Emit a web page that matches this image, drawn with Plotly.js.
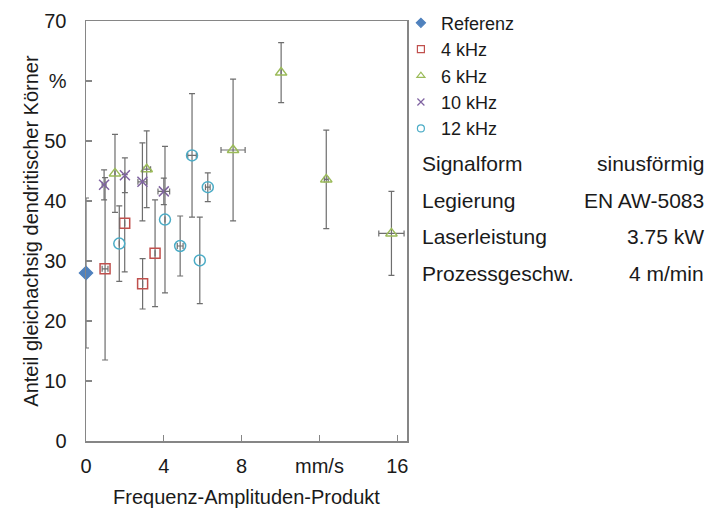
<!DOCTYPE html>
<html>
<head>
<meta charset="utf-8">
<script src="https://cdn.plot.ly/plotly-3.0.1.min.js"></script>
<style>html,body{margin:0;padding:0;background:#fff;}#chart{width:712px;height:515px;}</style>
</head>
<body>
<div id="chart"></div>
<script>
// Series data
const seriesNames = ["Referenz", "4 kHz", "6 kHz", "10 kHz", "12 kHz"];

const refX = [0];
const refY = [28];
const refErrY = [12.5];
const refErrX = [0];

const f4X = [0.98, 1.99, 2.91, 3.55];
const f4Y = [28.7, 36.3, 26.2, 31.3];
const f4ErrY = [15.2, 8.1, 4.2, 8.9];
const f4ErrX = [0.15, 0, 0, 0];

const f6X = [1.49, 3.12, 7.56, 10.03, 12.35, 15.7];
const f6Y = [44.6, 45.3, 48.5, 61.4, 43.6, 34.6];
const f6ErrY = [6.5, 6.4, 11.8, 5.0, 8.2, 7.0];
const f6ErrX = [0, 0.2, 0.62, 0, 0.1, 0.65];

const f10X = [0.93, 2.0, 2.9, 4.0];
const f10Y = [42.7, 44.3, 43.2, 41.6];
const f10ErrY = [2.5, 2.9, 6.5, 2.2];
const f10ErrX = [0.1, 0, 0.23, 0.3];

const f12X = [1.71, 4.06, 4.84, 5.45, 5.85, 6.26];
const f12Y = [32.9, 36.9, 32.5, 47.6, 30.1, 42.3];
const f12ErrY = [6.3, 12.2, 5.0, 10.3, 7.2, 2.4];
const f12ErrX = [0, 0, 0.15, 0.22, 0, 0.12];

const xTickVals = [0, 4, 8, 12, 16];
const xTickText = ["0", "4", "8", "mm/s", "16"];
const yTickVals = [0, 10, 20, 30, 40, 50, 60, 70];
const yTickText = ["0", "10", "20", "30", "40", "50", "%", "70"];

const infoLabels = ["Signalform", "Legierung", "Laserleistung", "Prozessgeschw."];
const infoValues = ["sinusförmig", "EN AW-5083", "3.75 kW", "4 m/min"];

const colors = ["#4F81BD", "#C0504D", "#9BBB59", "#8064A2", "#4BACC6"];
const symbols = ["diamond", "square-open", "triangle-up-open", "x-thin-open", "circle-open"];
const sizes = [10, 10, 10, 10, 11];
const legendSizes = [7, 7, 7, 7, 7];

const dataSets = [
  [refX, refY, refErrX, refErrY],
  [f4X, f4Y, f4ErrX, f4ErrY],
  [f6X, f6Y, f6ErrX, f6ErrY],
  [f10X, f10Y, f10ErrX, f10ErrY],
  [f12X, f12Y, f12ErrX, f12ErrY]
];

const errColor = "#6e6e6e";
const traces = [];
dataSets.forEach((d, i) => {
  traces.push({
    type: "scatter", mode: "markers",
    x: d[0], y: d[1],
    showlegend: false, legendgroup: "g" + i, cliponaxis: false,
    marker: {symbol: symbols[i], size: sizes[i], color: colors[i],
             line: {color: colors[i], width: 1.5}},
    error_y: {type: "data", array: d[3], visible: true, color: errColor, thickness: 1.2, width: 3},
    error_x: {type: "data", array: d[2], visible: true, color: errColor, thickness: 1.2, width: 3}
  });
});
// legend entries
seriesNames.forEach((n, i) => {
  traces.push({
    type: "scatter", mode: "markers", x: [null], y: [null], name: n,
    legendgroup: "g" + i, showlegend: true,
    marker: {symbol: symbols[i], size: legendSizes[i], color: colors[i],
             line: {color: colors[i], width: 1.2}}
  });
});

const L = 86, R = 407, T = 21, B = 441;
const pw = R - L, ph = B - T;
const rowY = [163.5, 200, 236.5, 273];
const annotations = [];
infoLabels.forEach((t, i) => {
  annotations.push({xref: "paper", yref: "paper", x: (420 - L) / pw, y: (B - rowY[i]) / ph,
    xanchor: "left", yanchor: "middle", text: t, showarrow: false,
    font: {family: "Liberation Sans, Arial, sans-serif", size: 21, color: "#1a1a1a"}});
  annotations.push({xref: "paper", yref: "paper", x: (706 - L) / pw, y: (B - rowY[i]) / ph,
    xanchor: "right", yanchor: "middle", text: infoValues[i], showarrow: false,
    font: {family: "Liberation Sans, Arial, sans-serif", size: 21, color: "#1a1a1a"}});
});

const axisCommon = {
  showgrid: false, zeroline: false,
  showline: true, linecolor: "#868686", linewidth: 1.5, mirror: true,
  ticks: "inside", ticklen: 6, tickcolor: "#868686", tickwidth: 1.2,
  tickfont: {family: "Liberation Sans, Arial, sans-serif", size: 20, color: "#1a1a1a"}
};

const layout = {
  width: 712, height: 515,
  margin: {l: L, r: 712 - R, t: T, b: 515 - B, pad: 0, autoexpand: false},
  paper_bgcolor: "#fff", plot_bgcolor: "#fff",
  font: {family: "Liberation Sans, Arial, sans-serif", color: "#1a1a1a"},
  xaxis: Object.assign({}, axisCommon, {
    range: [0, 16.5], tickmode: "array", tickvals: xTickVals, ticktext: xTickText,
    ticklabelstandoff: 6, automargin: false,
    title: {text: "Frequenz-Amplituden-Produkt", standoff: 14,
            font: {family: "Liberation Sans, Arial, sans-serif", size: 20, color: "#1a1a1a"}}
  }),
  yaxis: Object.assign({}, axisCommon, {
    range: [0, 70], tickmode: "array", tickvals: yTickVals, ticktext: yTickText,
    ticklabelstandoff: 14, automargin: false,
    title: {text: "Anteil gleichachsig dendritischer Körner", standoff: 0,
            font: {family: "Liberation Sans, Arial, sans-serif", size: 20, color: "#1a1a1a"}}
  }),
  legend: {x: 0.981, y: 1.039, xanchor: "left", yanchor: "top", bgcolor: "rgba(0,0,0,0)",
           font: {family: "Liberation Sans, Arial, sans-serif", size: 18, color: "#1a1a1a"},
           tracegroupgap: 0, itemwidth: 30},
  annotations: annotations,
  showlegend: true
};

Plotly.newPlot("chart", traces, layout, {displayModeBar: false, staticPlot: true});
</script>
</body>
</html>
